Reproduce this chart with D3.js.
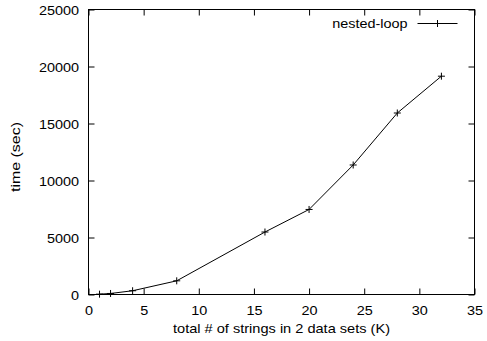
<!DOCTYPE html>
<html>
<head>
<meta charset="utf-8">
<script src="https://cdn.jsdelivr.net/npm/d3@7/dist/d3.min.js"></script>
<style>
  html, body { margin: 0; padding: 0; background: #fff; }
  svg { display: block; }
  text { font-family: "Liberation Sans", Arial, Helvetica, sans-serif; fill: #000; }
</style>
</head>
<body>
<svg id="chart" width="487" height="341"></svg>
<script>
// Run time of the nested-loop join versus input size
const sizesK = [1, 2, 4, 8, 16, 20, 24, 28, 32];
const timesSec = [30, 90, 330, 1200, 5480, 7460, 11360, 15920, 19150];
const xTicks = [0, 5, 10, 15, 20, 25, 30, 35];
const yTicks = [0, 5000, 10000, 15000, 20000, 25000];
const seriesName = "nested-loop";
const xTitle = "total # of strings in 2 data sets (K)";
const yTitle = "time (sec)";

const svg = d3.select("#chart");
const g = svg.append("g").attr("transform", "translate(0.5,0.5)");

const plotLeft = 88, plotRight = 474, plotTop = 9, plotBottom = 294;
const x = d3.scaleLinear().domain([0, 35]).range([plotLeft, plotRight]);
const y = d3.scaleLinear().domain([0, 25000]).range([plotBottom, plotTop]);

const fontSize = 13, stretch = 1.11, tickLen = 6;

// bottom axis: labels below, ticks pointing inward
const xAxis = d3.axisBottom(x).tickValues(xTicks).tickSize(-tickLen).tickPadding(0).tickFormat(d3.format("d"));
const gx = g.append("g").attr("transform", `translate(0,${plotBottom})`).call(xAxis);
gx.select(".domain").remove();
gx.selectAll("line").attr("stroke", "#000");
gx.selectAll("text")
  .attr("y", 0).attr("dy", 0)
  .attr("transform", `translate(0,20) scale(${stretch},1)`)
  .style("font-size", fontSize + "px");

// top mirror ticks
const gxt = g.append("g").attr("transform", `translate(0,${plotTop})`)
  .call(d3.axisTop(x).tickValues(xTicks).tickSize(-tickLen).tickFormat(""));
gxt.select(".domain").remove();
gxt.selectAll("line").attr("stroke", "#000");

// left axis
const yAxis = d3.axisLeft(y).tickValues(yTicks).tickSize(-tickLen).tickPadding(0).tickFormat(d3.format("d"));
const gy = g.append("g").attr("transform", `translate(${plotLeft},0)`).call(yAxis);
gy.select(".domain").remove();
gy.selectAll("line").attr("stroke", "#000");
gy.selectAll("text")
  .attr("x", 0).attr("dy", 0)
  .attr("text-anchor", "end")
  .attr("transform", `translate(-9.5,4.5) scale(${stretch},1)`)
  .style("font-size", fontSize + "px");

// right mirror ticks
const gyr = g.append("g").attr("transform", `translate(${plotRight},0)`)
  .call(d3.axisRight(y).tickValues(yTicks).tickSize(-tickLen).tickFormat(""));
gyr.select(".domain").remove();
gyr.selectAll("line").attr("stroke", "#000");

// plot frame
g.append("rect")
  .attr("x", plotLeft).attr("y", plotTop)
  .attr("width", plotRight - plotLeft).attr("height", plotBottom - plotTop)
  .attr("fill", "none").attr("stroke", "#000").attr("stroke-width", 1);

// series line
const pts = sizesK.map((s, i) => [s, timesSec[i]]);
const line = d3.line().x(d => x(d[0])).y(d => y(d[1]));
g.append("path").datum(pts)
  .attr("d", line).attr("fill", "none").attr("stroke", "#000").attr("stroke-width", 1);

// plus markers
const m = 3.5;
const marks = g.append("g").attr("stroke", "#000").attr("stroke-width", 1);
pts.forEach(d => {
  const cx = x(d[0]), cy = y(d[1]);
  marks.append("path").attr("d", `M${cx - m},${cy}H${cx + m}M${cx},${cy - m}V${cy + m}`);
});

// legend
const legY = 23;
g.append("text")
  .attr("transform", `translate(407,${legY + 4.5}) scale(${stretch},1)`)
  .attr("text-anchor", "end")
  .style("font-size", fontSize + "px")
  .text(seriesName);
g.append("line").attr("x1", 417).attr("x2", 457).attr("y1", legY).attr("y2", legY).attr("stroke", "#000");
g.append("path").attr("stroke", "#000")
  .attr("d", `M${437 - m},${legY}H${437 + m}M${437},${legY - m}V${legY + m}`);

// axis titles
svg.append("text")
  .attr("x", (plotLeft + plotRight) / 2 + 0.5).attr("y", 333)
  .attr("text-anchor", "middle")
  .attr("textLength", 217).attr("lengthAdjust", "spacingAndGlyphs")
  .style("font-size", fontSize + "px")
  .text(xTitle);
svg.append("text")
  .attr("transform", "translate(20,157) rotate(-90)")
  .attr("text-anchor", "middle")
  .attr("textLength", 70).attr("lengthAdjust", "spacingAndGlyphs")
  .style("font-size", fontSize + "px")
  .text(yTitle);
</script>
</body>
</html>
